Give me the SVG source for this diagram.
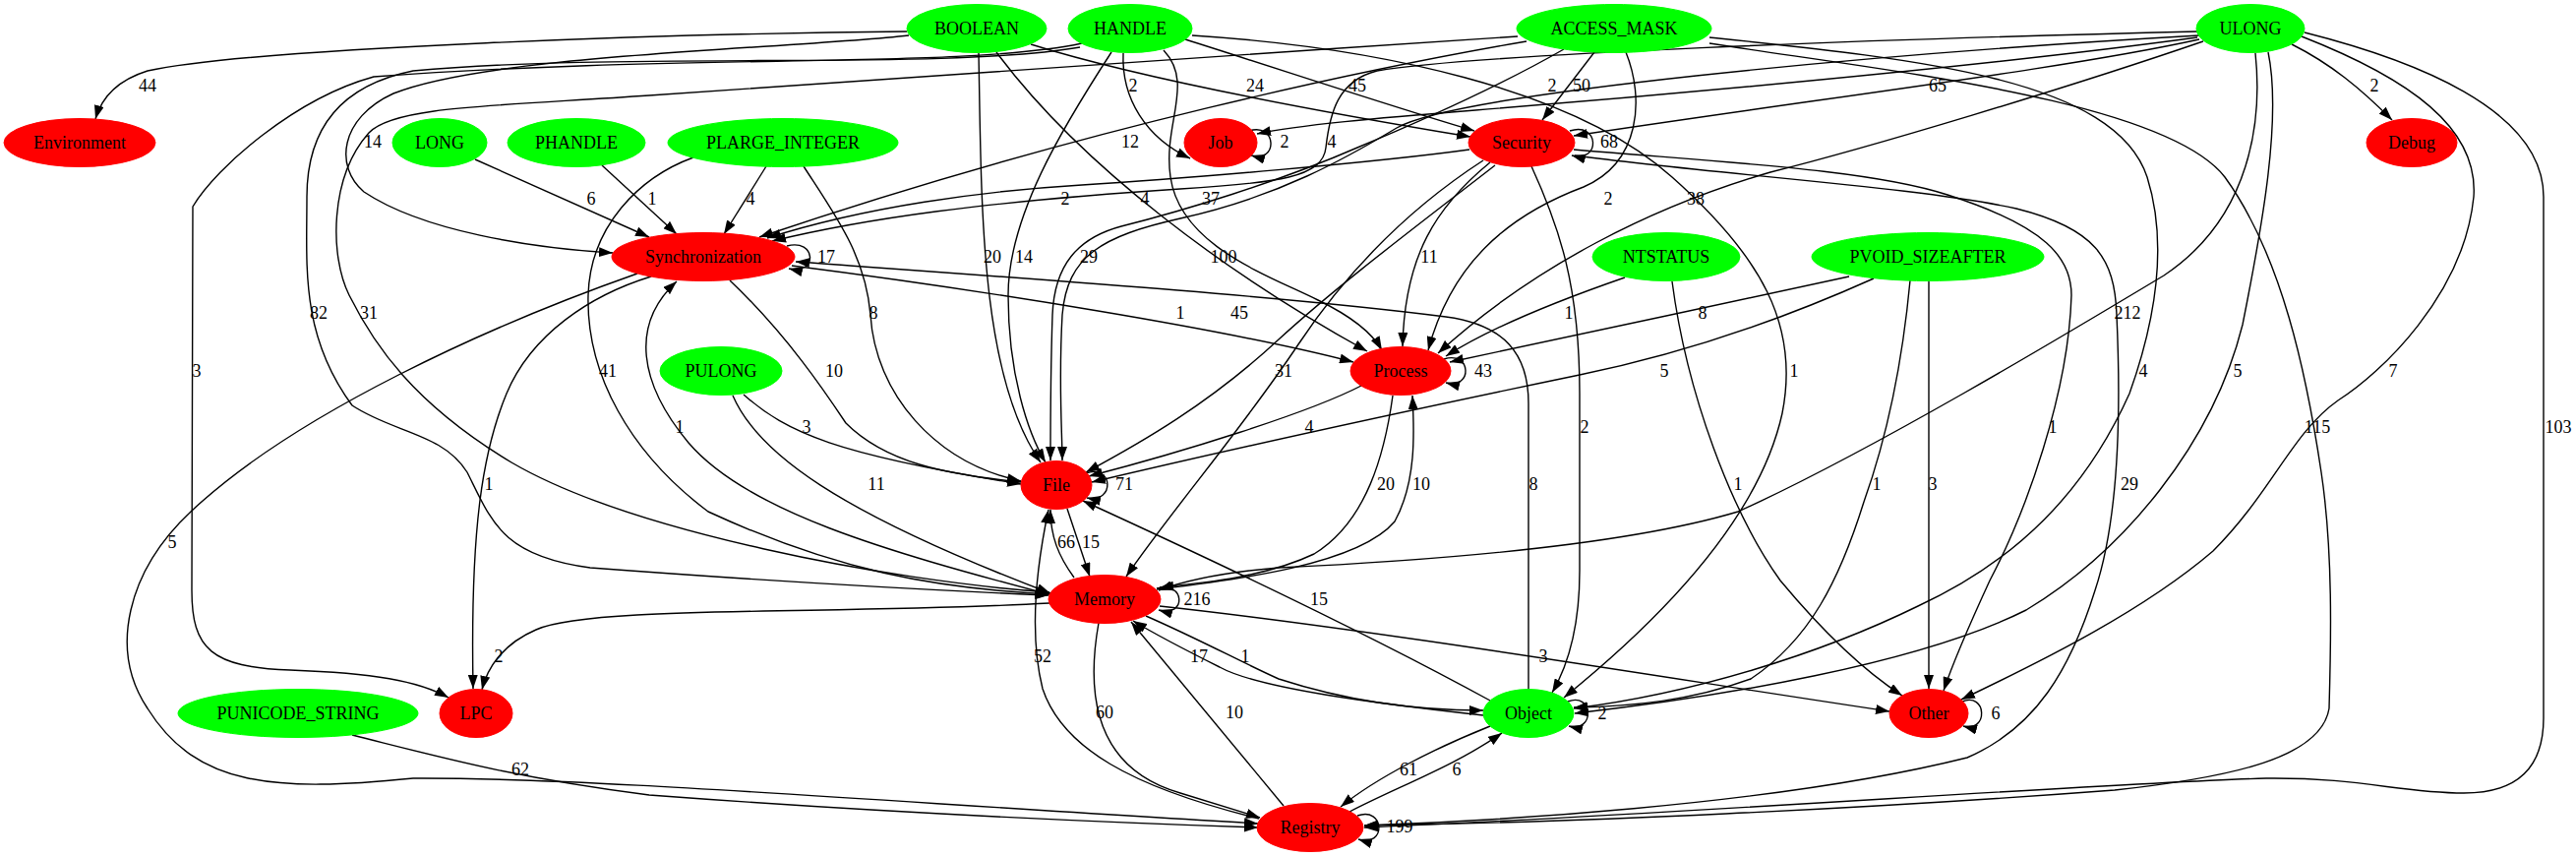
<svg xmlns="http://www.w3.org/2000/svg" width="2619" height="871" viewBox="0 0 2619 871">
<style>
text{font-family:"Liberation Serif","Times New Roman",serif;font-size:18px;text-anchor:middle;fill:#000}
.g ellipse{fill:#00ff00;stroke:#00ff00;stroke-width:1}
.r ellipse{fill:#ff0000;stroke:#ff0000;stroke-width:1}
#edges path{fill:none;stroke:#000;stroke-width:1.4;marker-end:url(#arr)}
</style>
<defs>
<marker id="arr" markerUnits="userSpaceOnUse" markerWidth="14" markerHeight="10" refX="14" refY="5" orient="auto"><path d="M0,0 L14,5 L0,10 z" fill="#000"/></marker>
</defs>
<rect width="2619" height="871" fill="#fff"/>
<g id="edges">
<path d="M922,32 C700,34 260,48 150,72 C118,82 103,100 97,121"/>
<path d="M1142,54 C1140,100 1165,140 1210,161"/>
<path d="M1048,45 C1160,80 1350,115 1495,139"/>
<path d="M1205,40 C1300,70 1420,110 1499,133"/>
<path d="M2234,38 C2000,70 1650,100 1500,112 C1400,120 1320,127 1278,136"/>
<path d="M1621,53 L1568,122"/>
<path d="M2236,40 C2100,70 1850,100 1600,138"/>
<path d="M2330,45 C2370,65 2400,90 2432,122"/>
<path d="M924,36 C800,50 500,55 400,95 C345,120 340,170 370,195 C430,235 540,252 623,257"/>
<path d="M1552,42 C1400,68 1100,130 772,241"/>
<path d="M1270,133 C1298,124 1300,166 1272,158"/>
<path d="M2234,32 C1900,40 1500,55 1400,72 C1360,82 1352,115 1348,150 C1345,180 1300,186 1200,192 C1000,205 880,222 785,245"/>
<path d="M1596,133 C1626,123 1628,166 1598,158"/>
<path d="M483,162 L660,241"/>
<path d="M612,168 L688,238"/>
<path d="M779,169 L736,238"/>
<path d="M1494,152 C1400,165 1200,182 1100,188 C1000,194 880,210 780,242"/>
<path d="M1590,50 C1520,90 1440,125 1380,150 C1300,185 1200,215 1140,230 C1095,242 1072,270 1070,320 C1068,380 1068,430 1068,468"/>
<path d="M1183,51 C1215,85 1182,125 1190,180 C1200,250 1290,280 1340,305 C1375,322 1395,338 1405,356"/>
<path d="M1653,53 C1672,100 1668,165 1610,190 C1530,220 1475,270 1452,356"/>
<path d="M2240,42 C2100,90 1900,150 1800,175 C1680,210 1560,270 1462,359"/>
<path d="M800,250 C830,242 832,280 802,273"/>
<path d="M995,54 C998,200 995,380 1058,470"/>
<path d="M1130,53 C1080,130 1025,220 1025,300 C1025,380 1045,440 1063,470"/>
<path d="M2236,36 C1900,55 1480,95 1420,130 C1370,160 1300,200 1200,222 C1120,240 1085,260 1080,320 C1076,390 1080,440 1080,468"/>
<path d="M1013,53 C1100,170 1250,280 1390,357"/>
<path d="M1515,165 C1460,210 1428,260 1426,352"/>
<path d="M1098,48 C960,72 640,52 420,72 C330,90 312,150 312,200 C312,270 305,340 358,412 C400,440 450,440 475,480 C500,530 510,565 600,577 C800,592 950,600 1066,605"/>
<path d="M1543,37 C1200,60 800,85 660,97 C500,108 400,108 375,135 C335,180 335,260 355,300 C380,350 420,410 520,470 C640,540 900,590 1067,602"/>
<path d="M817,169 C850,220 880,260 885,320 C890,400 950,470 1038,489"/>
<path d="M805,270 C1000,295 1250,335 1376,368"/>
<path d="M1520,168 C1440,230 1360,290 1300,345 C1230,410 1160,450 1104,480"/>
<path d="M1652,282 C1600,300 1520,330 1470,362"/>
<path d="M1880,281 C1750,310 1600,340 1474,368"/>
<path d="M2293,54 C2300,120 2290,220 2200,280 C2100,340 1900,460 1767,520 C1650,555 1450,570 1300,577 C1240,582 1205,590 1178,600"/>
<path d="M1100,44 C980,70 700,54 380,78 C300,100 220,170 196,210 L195,600 C195,660 215,678 295,681 C380,684 425,692 456,709"/>
<path d="M705,160 C650,180 600,230 598,300 C596,380 640,460 720,520 C850,580 950,598 1068,604"/>
<path d="M742,285 C800,340 840,400 860,430 C900,470 960,482 1038,490"/>
<path d="M1508,163 C1420,220 1360,290 1320,350 C1260,440 1190,520 1145,586"/>
<path d="M1468,365 C1496,356 1498,396 1470,389"/>
<path d="M1905,283 C1800,330 1700,362 1606,381 C1500,403 1300,445 1110,490"/>
<path d="M1212,36 C1400,48 1600,90 1700,180 C1790,260 1830,330 1812,420 C1790,520 1700,620 1590,709"/>
<path d="M1738,38 C1950,60 2150,80 2183,180 C2205,250 2190,330 2165,400 C2120,500 2050,570 1950,616 C1850,665 1720,705 1600,720"/>
<path d="M2306,53 C2320,120 2300,230 2280,330 C2250,450 2160,560 2060,620 C1950,675 1750,708 1601,725"/>
<path d="M2340,37 C2450,80 2520,130 2515,200 C2505,300 2420,380 2377,407 C2330,440 2310,500 2250,560 C2180,620 2080,670 1994,711"/>
<path d="M2343,33 C2450,60 2586,110 2586,200 L2586,730 C2586,780 2560,806 2505,806 C2440,806 2400,790 2304,791 C2150,795 1700,828 1387,841"/>
<path d="M1066,604 C900,560 760,520 700,450 C650,390 640,330 688,286"/>
<path d="M756,401 C800,440 850,462 1038,492"/>
<path d="M1384,392 C1330,420 1200,460 1107,484"/>
<path d="M1557,169 C1585,230 1606,290 1606,400 L1606,580 C1606,640 1592,680 1578,704"/>
<path d="M1600,152 C1750,165 1900,172 1980,198 C2080,230 2106,262 2106,300 C2103,400 2060,520 2023,590 C2000,640 1985,675 1976,702"/>
<path d="M1738,44 C1900,70 2200,100 2262,180 C2320,260 2345,380 2360,480 C2372,560 2370,650 2368,720 C2360,770 2270,790 2150,803 C1900,822 1600,836 1387,839"/>
<path d="M662,281 C600,300 540,340 515,400 C490,460 478,540 481,700"/>
<path d="M745,402 C770,460 850,520 1068,603"/>
<path d="M1104,481 C1132,471 1134,512 1105,506"/>
<path d="M1416,402 C1408,460 1390,530 1336,563 C1290,585 1230,592 1179,597"/>
<path d="M1176,599 C1250,590 1380,575 1418,530 C1440,490 1438,440 1436,402"/>
<path d="M1554,700 L1554,410 C1554,360 1530,330 1470,322 C1300,300 1000,280 809,266"/>
<path d="M1700,286 C1715,400 1760,520 1810,590 C1860,650 1900,685 1934,707"/>
<path d="M1942,285 C1935,360 1920,440 1895,510 C1870,590 1840,650 1780,690 C1720,712 1660,718 1600,719"/>
<path d="M1961,286 L1961,700"/>
<path d="M1601,158 C1750,178 1950,190 2050,212 C2130,232 2150,262 2152,320 C2158,450 2150,540 2130,600 C2105,680 2070,740 2000,770 C1800,820 1500,835 1387,839"/>
<path d="M648,278 C500,330 300,420 194,520 C130,580 110,660 150,720 C200,800 280,805 420,791 C600,790 900,815 1279,837"/>
<path d="M1092,587 C1076,565 1068,545 1068,518"/>
<path d="M1085,517 L1108,586"/>
<path d="M1176,598 C1205,590 1207,628 1178,620"/>
<path d="M1515,712 C1420,660 1300,600 1101,509"/>
<path d="M1067,613 C850,625 600,615 545,640 C510,655 495,680 490,701"/>
<path d="M1280,832 C1150,800 1080,760 1060,700 C1045,640 1055,570 1066,518"/>
<path d="M1508,727 C1400,715 1280,700 1240,678 C1200,658 1175,645 1152,631"/>
<path d="M1165,626 C1220,650 1260,672 1300,690 C1380,716 1450,722 1508,722"/>
<path d="M1179,616 C1400,640 1700,690 1921,723"/>
<path d="M1117,633 C1105,700 1110,780 1200,806 C1230,815 1255,823 1281,831"/>
<path d="M1305,819 L1150,632"/>
<path d="M1594,713 C1620,703 1622,745 1595,738"/>
<path d="M1995,713 C2020,703 2022,745 1996,738"/>
<path d="M1515,738 C1460,760 1400,790 1363,820"/>
<path d="M1372,825 C1420,800 1480,778 1527,745"/>
<path d="M358,747 C450,770 520,790 660,808 C900,826 1100,835 1279,841"/>
<path d="M1380,829 C1408,819 1410,862 1381,853"/>
<text x="150" y="93">44</text>
<text x="1152" y="93">2</text>
<text x="1276" y="93">24</text>
<text x="1380" y="93">45</text>
<text x="1578" y="93">2</text>
<text x="1608" y="93">50</text>
<text x="1970" y="93">65</text>
<text x="2414" y="93">2</text>
<text x="379" y="150">14</text>
<text x="1149" y="150">12</text>
<text x="1306" y="150">2</text>
<text x="1354" y="150">4</text>
<text x="1636" y="150">68</text>
<text x="601" y="208">6</text>
<text x="663" y="208">1</text>
<text x="763" y="208">4</text>
<text x="1083" y="208">2</text>
<text x="1164" y="208">4</text>
<text x="1231" y="208">37</text>
<text x="1635" y="208">2</text>
<text x="1724" y="208">38</text>
<text x="840" y="267">17</text>
<text x="1009" y="267">20</text>
<text x="1041" y="267">14</text>
<text x="1107" y="267">29</text>
<text x="1244" y="267">100</text>
<text x="1453" y="267">11</text>
<text x="324" y="324">82</text>
<text x="375" y="324">31</text>
<text x="888" y="324">8</text>
<text x="1200" y="324">1</text>
<text x="1260" y="324">45</text>
<text x="1595" y="324">1</text>
<text x="1731" y="324">8</text>
<text x="2163" y="324">212</text>
<text x="200" y="383">3</text>
<text x="618" y="383">41</text>
<text x="848" y="383">10</text>
<text x="1305" y="383">31</text>
<text x="1508" y="383">43</text>
<text x="1692" y="383">5</text>
<text x="1824" y="383">1</text>
<text x="2179" y="383">4</text>
<text x="2275" y="383">5</text>
<text x="2433" y="383">7</text>
<text x="2601" y="440">103</text>
<text x="691" y="440">1</text>
<text x="820" y="440">3</text>
<text x="1331" y="440">4</text>
<text x="1611" y="440">2</text>
<text x="2087" y="440">1</text>
<text x="2356" y="440">115</text>
<text x="497" y="498">1</text>
<text x="891" y="498">11</text>
<text x="1143" y="498">71</text>
<text x="1409" y="498">20</text>
<text x="1445" y="498">10</text>
<text x="1559" y="498">8</text>
<text x="1767" y="498">1</text>
<text x="1908" y="498">1</text>
<text x="1965" y="498">3</text>
<text x="2165" y="498">29</text>
<text x="175" y="557">5</text>
<text x="1084" y="557">66</text>
<text x="1109" y="557">15</text>
<text x="1217" y="615">216</text>
<text x="1341" y="615">15</text>
<text x="507" y="673">2</text>
<text x="1060" y="673">52</text>
<text x="1219" y="673">17</text>
<text x="1266" y="673">1</text>
<text x="1569" y="673">3</text>
<text x="1123" y="730">60</text>
<text x="1255" y="730">10</text>
<text x="1629" y="731">2</text>
<text x="2029" y="731">6</text>
<text x="1432" y="788">61</text>
<text x="1481" y="788">6</text>
<text x="529" y="788">62</text>
<text x="1423" y="846">199</text>
</g>
<g id="BOOLEAN" class="g"><ellipse cx="993" cy="29" rx="71" ry="24.5"/><text x="993" y="35">BOOLEAN</text></g>
<g id="HANDLE" class="g"><ellipse cx="1149" cy="29" rx="63" ry="24.5"/><text x="1149" y="35">HANDLE</text></g>
<g id="ACCESS_MASK" class="g"><ellipse cx="1641" cy="29" rx="99" ry="24.5"/><text x="1641" y="35">ACCESS_MASK</text></g>
<g id="ULONG" class="g"><ellipse cx="2288" cy="29" rx="55" ry="24.5"/><text x="2288" y="35">ULONG</text></g>
<g id="Environment" class="r"><ellipse cx="81" cy="145" rx="77" ry="24.5"/><text x="81" y="151">Environment</text></g>
<g id="LONG" class="g"><ellipse cx="447" cy="145" rx="48" ry="24.5"/><text x="447" y="151">LONG</text></g>
<g id="PHANDLE" class="g"><ellipse cx="586" cy="145" rx="70" ry="24.5"/><text x="586" y="151">PHANDLE</text></g>
<g id="PLARGE_INTEGER" class="g"><ellipse cx="796" cy="145" rx="117" ry="24.5"/><text x="796" y="151">PLARGE_INTEGER</text></g>
<g id="Job" class="r"><ellipse cx="1241" cy="145" rx="37" ry="24.5"/><text x="1241" y="151">Job</text></g>
<g id="Security" class="r"><ellipse cx="1547" cy="145" rx="54" ry="24.5"/><text x="1547" y="151">Security</text></g>
<g id="Debug" class="r"><ellipse cx="2452" cy="145" rx="46" ry="24.5"/><text x="2452" y="151">Debug</text></g>
<g id="Synchronization" class="r"><ellipse cx="715" cy="261" rx="93" ry="24.5"/><text x="715" y="267">Synchronization</text></g>
<g id="NTSTATUS" class="g"><ellipse cx="1694" cy="261" rx="75" ry="24.5"/><text x="1694" y="267">NTSTATUS</text></g>
<g id="PVOID_SIZEAFTER" class="g"><ellipse cx="1960" cy="261" rx="118" ry="24.5"/><text x="1960" y="267">PVOID_SIZEAFTER</text></g>
<g id="PULONG" class="g"><ellipse cx="733" cy="377" rx="62" ry="24.5"/><text x="733" y="383">PULONG</text></g>
<g id="Process" class="r"><ellipse cx="1424" cy="377" rx="51" ry="24.5"/><text x="1424" y="383">Process</text></g>
<g id="File" class="r"><ellipse cx="1074" cy="493" rx="36" ry="24.5"/><text x="1074" y="499">File</text></g>
<g id="Memory" class="r"><ellipse cx="1123" cy="609" rx="57" ry="24.5"/><text x="1123" y="615">Memory</text></g>
<g id="PUNICODE_STRING" class="g"><ellipse cx="303" cy="725" rx="122" ry="24.5"/><text x="303" y="731">PUNICODE_STRING</text></g>
<g id="LPC" class="r"><ellipse cx="484" cy="725" rx="37" ry="24.5"/><text x="484" y="731">LPC</text></g>
<g id="Object" class="g"><ellipse cx="1554" cy="725" rx="46" ry="24.5"/><text x="1554" y="731">Object</text></g>
<g id="Other" class="r"><ellipse cx="1961" cy="725" rx="40" ry="24.5"/><text x="1961" y="731">Other</text></g>
<g id="Registry" class="r"><ellipse cx="1332" cy="841" rx="54" ry="24.5"/><text x="1332" y="847">Registry</text></g>
</svg>
